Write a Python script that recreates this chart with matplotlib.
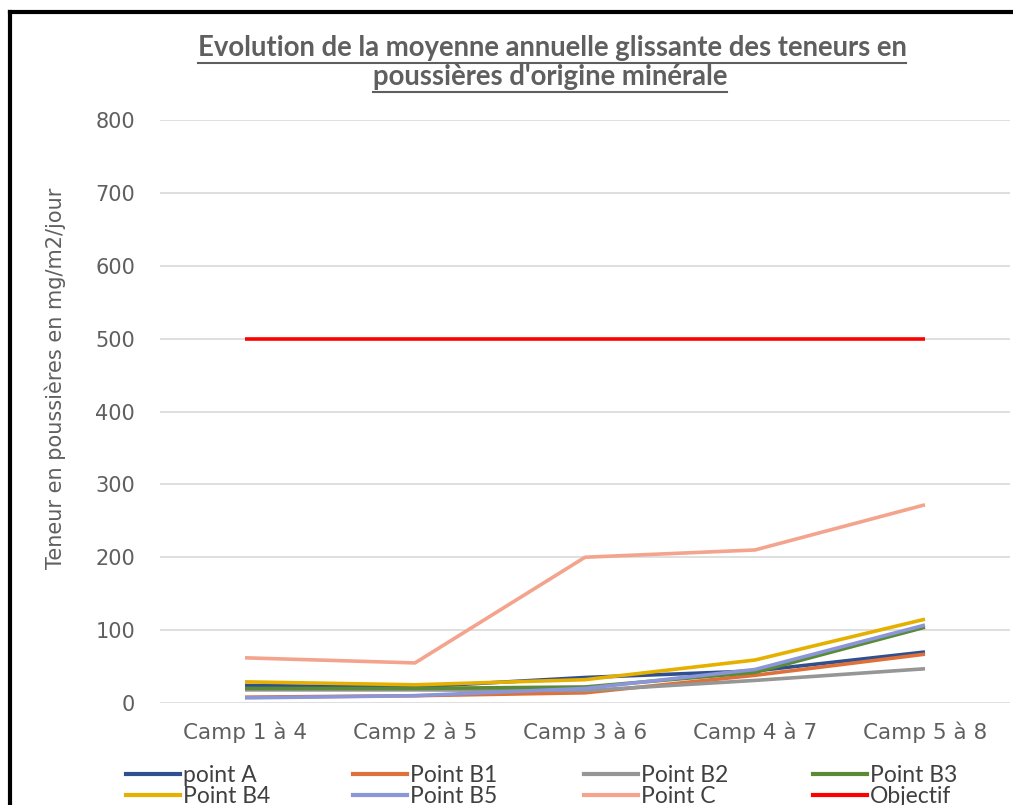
import matplotlib
matplotlib.use('Agg')
import matplotlib.pyplot as plt
from matplotlib.lines import Line2D

# categories and series
camps = ['Camp 1 à 4', 'Camp 2 à 5', 'Camp 3 à 6', 'Camp 4 à 7', 'Camp 5 à 8']
point_a  = [24, 22, 35, 44, 70]
point_b1 = [8, 10, 14, 38, 67]
point_b2 = [18, 18, 17, 31, 47]
point_b3 = [20, 20, 22, 42, 104]
point_b4 = [29, 25, 32, 59, 115]
point_b5 = [7, 10, 20, 46, 107]
point_c  = [62, 55, 200, 210, 272]
objectif = [500, 500, 500, 500, 500]

names  = ['point A', 'Point B1', 'Point B2', 'Point B3', 'Point B4', 'Point B5', 'Point C', 'Objectif']
series = [point_a, point_b1, point_b2, point_b3, point_b4, point_b5, point_c, objectif]
colors = ['#2f4f8f', '#e0703a', '#969696', '#5a8a35', '#e6b000', '#8a96d8', '#f4a48c', '#ff0000']

W, H = 1013, 805
grey = '#5f5f5f'
font_axis = ['DejaVu Sans']
font_leg = ['Lato', 'DejaVu Sans']

fig = plt.figure(figsize=(W/100, H/100), dpi=100)
ax = fig.add_axes([160/W, 1 - 703/H, 850/W, 583/H])

x = range(len(camps))
for name, vals, col in zip(names, series, colors):
    ax.plot(x, vals, color=col, linewidth=2.6, solid_capstyle='butt', zorder=3)

ax.set_xlim(-0.5, len(camps) - 0.5)
ax.set_ylim(0, 800)
ax.set_yticks(range(0, 801, 100))
ax.set_xticks(list(x))
ax.set_xticklabels(camps, family=font_axis, fontsize=15.5, color=grey)
for lab in ax.get_yticklabels():
    lab.set_family(font_axis)
    lab.set_fontsize(15)
    lab.set_color(grey)
ax.tick_params(length=0)
ax.tick_params(axis='x', pad=13)
ax.tick_params(axis='y', pad=18)
ax.grid(axis='y', color='#d9d9d9', linewidth=1.2, zorder=0)
for s in ax.spines.values():
    s.set_visible(False)

ax.set_ylabel('Teneur en poussières en mg/m2/jour', family=font_axis,
              fontsize=15, color=grey)
ax.yaxis.set_label_coords((66 - 160)/850, (703 - 378)/583)

t1 = fig.text(552/W, 1 - 48/H, "Evolution de la moyenne annuelle glissante des teneurs en",
              ha='center', va='center', family=font_leg, fontsize=19.8,
              fontweight='bold', color=grey)
t2 = fig.text(550/W, 1 - 77/H, "poussières d'origine minérale",
              ha='center', va='center', family=font_leg, fontsize=19.8,
              fontweight='bold', color=grey)

# four small legends, two rows each
fs = 16.5
fpx = fs * 100 / 72
col_x = [126, 353, 584, 813]
for k in range(4):
    idx = [k, k + 4]
    fig.legend([Line2D([0], [0], color=colors[i], lw=3) for i in idx],
               [names[i] for i in idx],
               loc='upper left', bbox_to_anchor=(col_x[k]/W, 1 - 765/H),
               frameon=False, borderpad=0, borderaxespad=0,
               handlelength=54/fpx, handletextpad=3/fpx, labelspacing=0.0,
               prop={'family': font_leg, 'size': fs}, labelcolor='#404040')

# underline the title
fig.canvas.draw()
r = fig.canvas.get_renderer()
for t, y in ((t1, 63), (t2, 92)):
    bb = t.get_window_extent(r)
    fig.add_artist(Line2D([bb.x0/W, bb.x1/W], [1 - y/H, 1 - y/H], color=grey, lw=1.5))

# black frame around the chart
fig.add_artist(Line2D([10/W, 10/W], [0, 1 - 12/H], color='black', lw=3))
fig.add_artist(Line2D([10/W, 1], [1 - 12/H, 1 - 12/H], color='black', lw=3))

fig.savefig('out.png', dpi=100)
